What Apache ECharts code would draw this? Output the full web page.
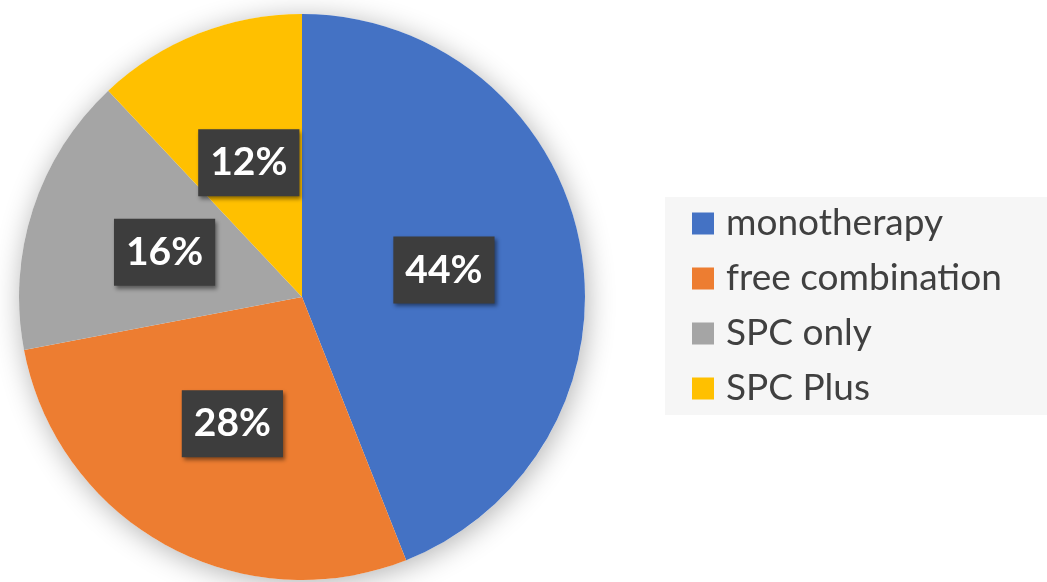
<!DOCTYPE html>
<html>
<head>
<meta charset="utf-8">
<script src="https://cdn.jsdelivr.net/npm/echarts@6/dist/echarts.min.js"></script>
<style>
html,body{margin:0;padding:0;background:#fff;}
#chart{width:1047px;height:582px;}
</style>
</head>
<body>
<div id="chart"></div>
<script>
const categories = ['monotherapy', 'free combination', 'SPC only', 'SPC Plus'];
const values = [44, 28, 16, 12];
const colors = ['#4472C4', '#ED7D31', '#A5A5A5', '#FFC000'];

const chart = echarts.init(document.getElementById('chart'));
const data = categories.map((name, i) => ({ name, value: values[i], itemStyle: { color: colors[i] } }));

chart.setOption({
  animation: false,
  backgroundColor: '#ffffff',
  legend: {
    orient: 'vertical',
    left: 665,
    top: 197,
    padding: [8, 47, 8, 27],
    backgroundColor: '#f6f6f6',
    itemWidth: 22,
    itemHeight: 22,
    itemGap: 18,
    icon: 'rect',
    data: categories,
    textStyle: {
      fontFamily: 'Lato',
      fontSize: 37,
      color: '#404040',
      padding: [0, 0, 0, 7]
    }
  },
  series: [
    {
      type: 'pie',
      silent: true,
      center: [302, 297],
      radius: 283,
      label: { show: false },
      labelLine: { show: false },
      legendHoverLink: false,
      itemStyle: {
        color: '#ffffff',
        shadowBlur: 28,
        shadowColor: 'rgba(0,0,0,0.3)',
        shadowOffsetX: 2,
        shadowOffsetY: 4
      },
      data: [{ name: '__bg', value: 1 }],
      z: 1
    },
    {
      type: 'pie',
      center: [302, 297],
      radius: 283,
      startAngle: 90,
      clockwise: true,
      avoidLabelOverlap: false,
      labelLine: { show: false },
      label: {
        show: true,
        position: 'inside',
        formatter: '{d}%',
        color: '#ffffff',
        fontFamily: 'Lato',
        fontWeight: 'bold',
        fontSize: 39,
        lineHeight: 38,
        backgroundColor: '#3d3d3d',
        padding: [15, 12, 14, 12],
        shadowColor: 'rgba(0,0,0,0.45)',
        shadowBlur: 4,
        shadowOffsetX: 2,
        shadowOffsetY: 3
      },
      itemStyle: { borderWidth: 0 },
      emphasis: { disabled: true },
      data: data,
      z: 2
    }
  ]
});
</script>
</body>
</html>
